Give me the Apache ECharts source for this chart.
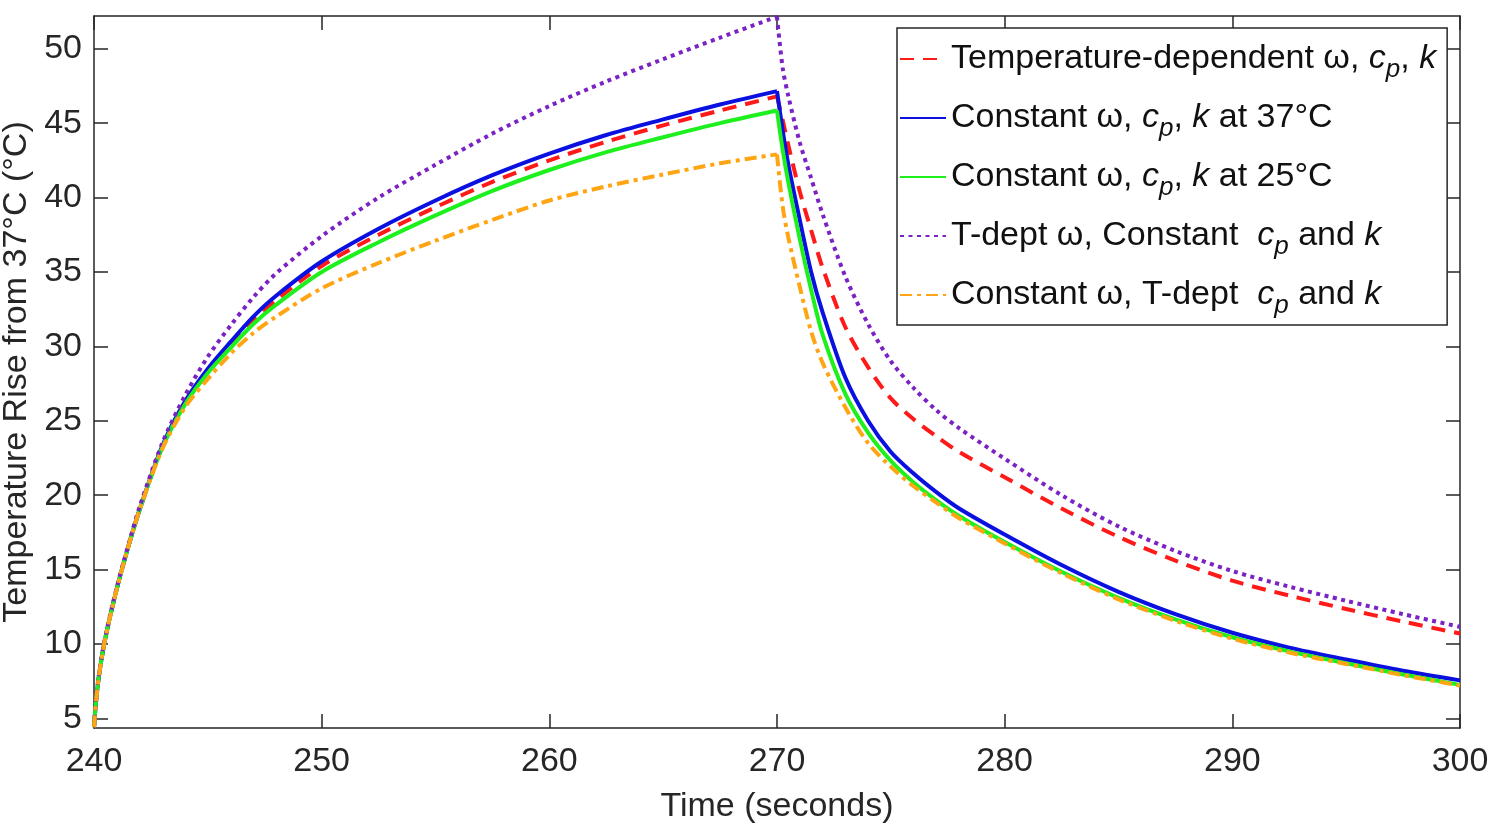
<!DOCTYPE html>
<html>
<head>
<meta charset="utf-8">
<script src="https://cdn.jsdelivr.net/npm/echarts@6.0.0/dist/echarts.min.js"></script>
<style>
  html, body { margin: 0; padding: 0; background: #fff; }
  #chart { width: 1491px; height: 831px; }
</style>
</head>
<body>
<div id="chart"></div>
<script>
// time axis (seconds), heating 240-270 then cooling 270-300
const times = [240, 240.1, 240.25, 240.5, 241, 241.5, 242, 243, 244, 245, 246, 247, 248, 250, 252.5, 255, 257.5, 260, 262.5, 265, 267.5, 270,
  270.25, 270.5, 271, 271.5, 272, 273, 274, 275, 276, 277, 278, 280, 282.5, 285, 287.5, 290, 292.5, 295, 297.5, 300]
const PEAK = 21 // index of t = 270 (power switched off)

const tempDependent = [4.4, 6.3, 8.2, 10.4, 13.7, 16.5, 19.0, 23.25, 26.2, 28.3, 30.1, 31.7, 33.1, 35.4, 37.5, 39.35, 41.05, 42.5, 43.75, 44.85, 45.85, 46.8,
  45.2, 43.5, 40.4, 37.8, 35.3, 31.3, 28.6, 26.5, 25.1, 23.95, 22.9, 21.2, 19.1, 17.2, 15.6, 14.25, 13.25, 12.35, 11.5, 10.7]
const const37 = [4.4, 6.3, 8.2, 10.4, 13.7, 16.5, 19.0, 23.3, 26.3, 28.5, 30.3, 32.0, 33.4, 35.7, 37.9, 39.8, 41.5, 42.95, 44.2, 45.25, 46.25, 47.15,
  44.5, 42.2, 38.5, 35.0, 32.3, 27.9, 25.0, 22.9, 21.45, 20.2, 19.1, 17.35, 15.3, 13.5, 12.0, 10.75, 9.75, 8.95, 8.2, 7.55]
const const25 = [4.4, 6.3, 8.2, 10.4, 13.7, 16.5, 19.0, 23.2, 26.1, 28.2, 29.9, 31.5, 32.8, 35.0, 37.0, 38.8, 40.45, 41.85, 43.05, 44.05, 45.0, 45.85,
  43.2, 41.0, 37.2, 33.8, 30.8, 26.8, 24.2, 22.3, 20.85, 19.65, 18.6, 16.85, 14.85, 13.1, 11.65, 10.45, 9.5, 8.7, 7.95, 7.25]
const tdeptOmega = [4.4, 6.4, 8.3, 10.5, 13.8, 16.6, 19.2, 23.5, 26.7, 29.3, 31.4, 33.3, 34.9, 37.4, 40.0, 42.2, 44.3, 46.15, 47.8, 49.3, 50.75, 52.15,
  48.7, 46.8, 43.7, 41.3, 38.9, 34.7, 31.5, 29.0, 27.2, 25.7, 24.5, 22.45, 20.0, 17.9, 16.25, 14.9, 13.85, 12.9, 12.0, 11.15]
const tdeptCpK = [4.4, 6.3, 8.2, 10.4, 13.7, 16.5, 19.0, 23.1, 25.9, 27.8, 29.5, 30.9, 32.0, 33.9, 35.6, 37.1, 38.5, 39.8, 40.75, 41.55, 42.3, 42.9,
  39.4, 37.3, 34.0, 31.0, 28.9, 25.9, 23.5, 21.9, 20.6, 19.5, 18.45, 16.75, 14.75, 13.0, 11.55, 10.35, 9.42, 8.65, 7.9, 7.2]

const yTicks = [5, 10, 15, 20, 25, 30, 35, 40, 45, 50]

const names = [
  'Temperature-dependent ω, cp, k',
  'Constant ω, cp, k at 37°C',
  'Constant ω, cp, k at 25°C',
  'T-dept ω, Constant  cp and k',
  'Constant ω, T-dept  cp and k'
]
// rich-text versions for the legend (italic c, subscript p, italic k)
const legendLabels = [
  'Temperature-dependent ω, {i|c}{s|p}, {i|k}',
  'Constant ω, {i|c}{s|p}, {i|k} at 37°C',
  'Constant ω, {i|c}{s|p}, {i|k} at 25°C',
  'T-dept ω, Constant  {i|c}{s|p} and {i|k}',
  'Constant ω, T-dept  {i|c}{s|p} and {i|k}'
]

const FONT = '"Liberation Sans", Arial, sans-serif'
const AXIS = '#262626'
const FS = 34

function pairs(values, from, to) {
  const out = []
  for (let i = from; i <= to; i++) out.push([times[i], values[i]])
  return out
}

// heating and cooling drawn as two smooth pieces sharing one legend entry,
// so the corner at 270 s stays sharp
function makeSeries(name, values, color, type) {
  const base = {
    name: name,
    type: 'line',
    symbol: 'none',
    smooth: 0.3,
    animation: false,
    lineStyle: { color: color, width: 4, type: type, cap: 'butt' },
    itemStyle: { color: color }
  }
  return [
    Object.assign({ data: pairs(values, 0, PEAK) }, base),
    Object.assign({ data: pairs(values, PEAK, times.length - 1) }, base)
  ]
}

const chart = echarts.init(document.getElementById('chart'))

const axisLine = { show: true, onZero: false, lineStyle: { color: AXIS, width: 1.5 } }
const axisTick = { show: true, inside: true, length: 14, lineStyle: { color: AXIS, width: 1.5 } }

chart.setOption({
  backgroundColor: '#fff',
  grid: { left: 94, right: 31, top: 16, bottom: 103, outerBoundsMode: 'none' },
  xAxis: [{
    type: 'value',
    min: 240,
    max: 300,
    interval: 10,
    position: 'bottom',
    axisLine: axisLine,
    axisTick: axisTick,
    axisLabel: { fontSize: FS, color: AXIS, fontFamily: FONT, margin: 17 },
    splitLine: { show: false },
    name: 'Time (seconds)',
    nameLocation: 'middle',
    nameGap: 62,
    nameTextStyle: { fontSize: FS, color: AXIS, fontFamily: FONT }
  }, {
    type: 'value',
    min: 240,
    max: 300,
    interval: 10,
    position: 'top',
    axisLine: axisLine,
    axisTick: axisTick,
    axisLabel: { show: false },
    splitLine: { show: false }
  }],
  yAxis: [{
    type: 'value',
    min: 4.35,
    max: 52.2,
    position: 'left',
    axisLine: axisLine,
    axisTick: Object.assign({ customValues: yTicks }, axisTick),
    axisLabel: { customValues: yTicks, fontSize: FS, color: AXIS, fontFamily: FONT, margin: 12 },
    splitLine: { show: false },
    name: 'Temperature Rise from 37°C (°C)',
    nameLocation: 'middle',
    nameGap: 55,
    nameTextStyle: { fontSize: FS, color: AXIS, fontFamily: FONT }
  }, {
    type: 'value',
    min: 4.35,
    max: 52.2,
    position: 'right',
    axisLine: axisLine,
    axisTick: Object.assign({ customValues: yTicks }, axisTick),
    axisLabel: { show: false },
    splitLine: { show: false }
  }],
  legend: {
    orient: 'vertical',
    left: 897,
    top: 28,
    itemWidth: 46,
    itemHeight: 14,
    itemGap: 11,
    padding: [7, 11, 6, 2],
    backgroundColor: '#fff',
    borderColor: AXIS,
    borderWidth: 1.5,
    data: names,
    itemStyle: { color: 'transparent', borderWidth: 0, opacity: 0 },
    formatter: function(name) {
      return legendLabels[names.indexOf(name)]
    },
    textStyle: {
      fontSize: FS,
      color: '#111',
      fontFamily: FONT,
      lineHeight: 48,
      rich: {
        i: { fontStyle: 'italic', fontSize: FS, fontFamily: FONT, color: '#111', lineHeight: 48 },
        s: { fontStyle: 'italic', fontSize: 26, fontFamily: FONT, color: '#111', lineHeight: 16, verticalAlign: 'bottom' }
      }
    }
  },
  series: [].concat(
    makeSeries(names[0], tempDependent, '#ff1a1a', [14, 9]),
    makeSeries(names[1], const37, '#0a10e0', 'solid'),
    makeSeries(names[2], const25, '#1ef01e', 'solid'),
    makeSeries(names[3], tdeptOmega, '#7a22c4', [4, 4.5]),
    makeSeries(names[4], tdeptCpK, '#ffa514', [12, 5, 4, 5])
  )
})
</script>
</body>
</html>
